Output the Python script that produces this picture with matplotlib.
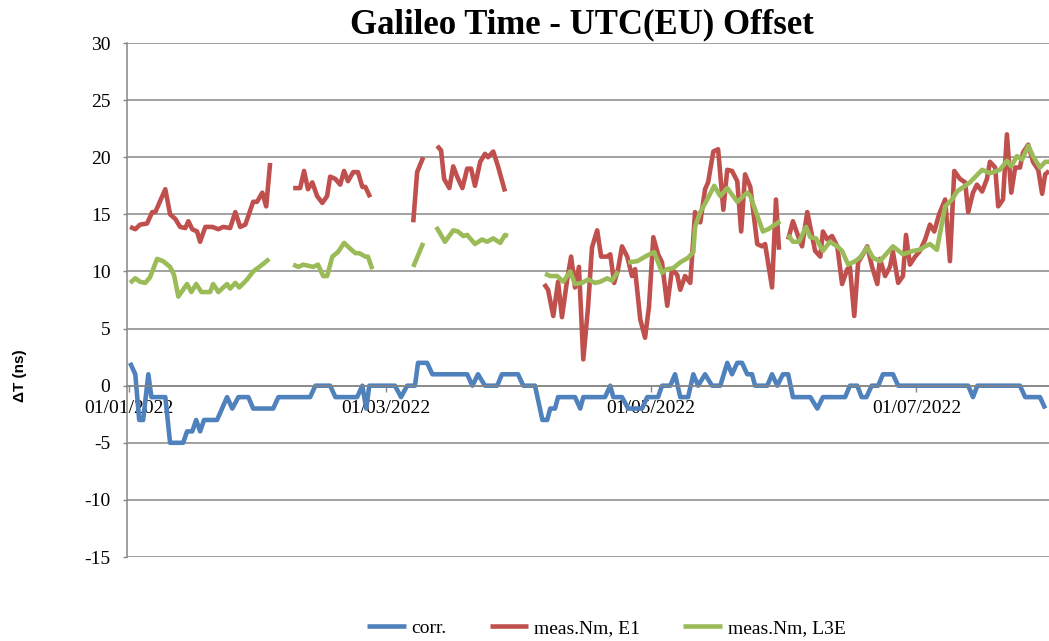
import numpy as np
import matplotlib
matplotlib.use("Agg")
import matplotlib.pyplot as plt

plt.rcParams['axes.unicode_minus'] = False

# days since 01/01/2022, nan = gap in the series
nan = np.nan

corr_day = [0.2, 1.4, 2.3, 3.2, 4.4, 5.1, 8.3, 9.4, 12.4, 13.3, 14.5, 15.4, 16.3, 17.2, 20.2,
            22.5, 23.7, 25.1, 27.4, 28.5, 33.1, 34.3, 41.6, 42.8, 46.2, 47.4, 52.4, 53.6, 54.5,
            55.2, 61.1, 62.5, 63.9, 65.7, 66.4, 68.5, 69.7, 77.7, 78.9, 80.2, 81.8, 84.6, 85.7,
            89.4, 90.6, 93.3, 95.0, 96.1, 96.8, 97.9, 98.6, 102.5, 103.7, 104.4, 109.4, 110.6,
            111.3, 113.3, 114.7, 117.9, 119.1, 121.6, 122.5, 124.4, 125.5, 126.7, 128.5, 129.7,
            130.8, 132.4, 134.0, 135.9, 137.5, 138.6, 139.8, 140.9, 142.1, 143.2, 143.9, 146.7,
            147.8, 149.0, 150.3, 151.5, 152.6, 156.6, 158.2, 159.5, 164.6, 165.7, 167.4, 168.4,
            169.5, 170.7, 172.2, 173.3, 175.6, 176.8, 192.9, 194.0, 195.0, 204.8, 206.0, 209.4,
            210.6]
corr_val = [2, 1, -3, -3, 1, -1, -1, -5, -5, -4, -4, -3, -4, -3, -3,
            -1, -2, -1, -1, -2, -2, -1, -1, 0, 0, -1, -1, 0, -2,
            0, 0, -1, 0, 0, 2, 2, 1, 1, 0, 1, 0, 0, 1,
            1, 0, 0, -3, -3, -2, -2, -1, -1, -2, -1, -1, 0,
            -1, -1, -2, -2, -1, -1, 0, 0, 1, -1, -1, 1,
            0, 1, 0, 0, 2, 1, 2, 2, 1, 1, 0, 0,
            1, 0, 1, 1, -1, -1, -2, -1, -1, 0, 0, -1,
            -1, 0, 0, 1, 1, 0, 0, -1, 0, 0, -1, -1,
            -2]

e1_day = [0.2, 1.4, 2.5, 4.1, 5.3, 6.0, 8.3, 9.4, 10.6, 11.7, 12.9, 13.6, 14.5, 15.6, 16.3,
          17.5, 19.1, 20.5, 21.6, 23.2, 24.4, 25.5, 26.7, 28.5, 29.4, 30.6, 31.5, 32.4, nan,
          37.7, 39.3, 40.2, 41.1, 42.1, 43.2, 44.4, 45.5, 46.2, 47.4, 48.5, 49.4, 50.3, 51.5,
          52.6, 53.6, 54.3, 55.4, nan,
          65.3, 66.2, 67.6, nan,
          70.8, 71.7, 72.4, 73.6, 74.5, 75.4, 76.6, 77.7, 78.6, 79.5, 80.7, 81.8, 82.5, 83.7,
          84.8, 86.4, nan,
          95.4, 96.3, 97.5, 98.6, 99.5, 100.7, 101.6, 102.5, 103.4, 104.4, 105.5, 106.4, 107.6,
          108.5, 109.9, 110.6, 111.5, 112.4, 113.3, 114.5, 115.6, 116.3, 117.5, 118.6, 119.5,
          120.5, 121.6, 122.5, 123.7, 124.8, 126.0, 126.7, 127.8, 129.0, 130.1, 131.3, 132.4,
          133.1, 134.3, 135.4, 136.6, 137.5, 138.6, 139.8, 140.7, 141.6, 142.8, 144.4, 145.5,
          146.2, 147.8, 148.7, 149.4, nan,
          151.5, 152.6, 153.8, 154.7, 155.9, 157.0, 157.7, 158.9, 159.5, 160.5, 161.6, 162.8,
          163.9, 165.1, 165.7, 166.7, 167.6, 168.7, 169.7, 170.8, 172.0, 172.6, 173.8, 174.9,
          175.6, 176.8, 177.9, 178.6, 179.5, 180.7, 181.8, 183.0, 184.1, 185.1, 186.2, 187.6,
          188.7, 189.7, 191.0, 192.2, 192.9, 194.0, 194.9, 196.1, 197.2, 197.9, 199.1, 199.8,
          200.9, 201.8, 202.8, 203.7, 204.8, 205.5, 206.7, 207.8, 209.0, 209.9, 210.6, 211.5]
e1_val = [13.9, 13.7, 14.1, 14.2, 15.2, 15.2, 17.2, 15.0, 14.6, 13.9, 13.8, 14.4, 13.7, 13.5, 12.6,
          13.9, 13.9, 13.7, 13.9, 13.8, 15.2, 13.9, 14.1, 16.1, 16.1, 16.9, 15.7, 19.5, nan,
          17.3, 17.3, 18.8, 17.2, 17.8, 16.6, 16.0, 16.6, 18.3, 18.1, 17.6, 18.8, 17.9, 18.7,
          18.7, 17.4, 17.4, 16.5, nan,
          14.3, 18.7, 20.0, nan,
          21.0, 20.6, 18.1, 17.3, 19.2, 18.3, 17.3, 19.0, 19.0, 17.5, 19.6, 20.3, 20.0, 20.5,
          19.2, 17.0, nan,
          8.9, 8.4, 6.1, 9.1, 6.0, 9.3, 11.3, 8.6, 10.4, 2.3, 6.9, 12.1, 13.6,
          11.3, 11.3, 11.5, 9.0, 10.2, 12.2, 11.3, 9.6, 10.2, 5.8, 4.2, 6.9,
          13.0, 11.5, 10.8, 7.0, 10.2, 9.7, 8.4, 9.6, 9.0, 15.2, 14.3, 17.2,
          17.8, 20.5, 20.7, 15.4, 18.9, 18.8, 17.9, 13.5, 18.5, 17.4, 12.4, 12.2,
          12.4, 8.6, 16.3, 11.9, nan,
          12.8, 14.4, 13.1, 12.2, 15.2, 13.1, 11.8, 11.3, 13.5, 12.8, 13.1, 12.2,
          8.9, 10.2, 10.4, 6.1, 10.8, 11.5, 12.2, 10.4, 8.9, 11.1, 9.6, 10.4,
          11.7, 9.0, 9.6, 13.2, 10.6, 11.3, 11.8, 12.8, 14.1, 13.5, 15.0, 16.3,
          10.9, 18.8, 18.1, 17.8, 15.2, 16.9, 17.6, 17.0, 18.1, 19.6, 19.1, 15.7,
          16.3, 22.0, 16.9, 19.1, 19.1, 20.4, 21.1, 19.6, 18.9, 16.8, 18.5, 18.8]

l3e_day = [0.2, 1.4, 2.5, 3.7, 4.8, 6.4, 7.8, 9.4, 10.3, 11.3, 13.3, 14.3, 15.4, 16.6, 18.6,
           19.3, 20.5, 22.5, 23.2, 24.4, 25.3, 27.1, 28.5, 30.6, 32.2, nan,
           37.7, 38.9, 40.0, 42.3, 43.4, 44.6, 45.5, 46.7, 48.0, 49.4, 50.8, 52.0, 52.9, 54.3,
           54.9, 55.9, nan,
           65.3, 67.6, nan,
           70.6, 72.6, 74.5, 75.6, 76.8, 77.7, 79.5, 81.1, 82.3, 83.7, 85.3, 86.4, 87.1, nan,
           95.6, 96.8, 98.4, 99.8, 101.4, 102.5, 104.1, 105.5, 107.1, 108.3, 109.9, 111.0,
           112.4, nan,
           114.7, 116.8, 119.1, 120.7, 122.5, 123.7, 125.1, 126.7, 128.5, 129.7, 130.1, 131.3,
           132.9, 134.5, 135.9, 137.5, 139.8, 142.1, 142.8, 145.7, 146.9, 149.7, nan,
           151.5, 152.6, 154.0, 155.6, 156.6, 157.9, 159.5, 161.1, 162.8, 163.9, 165.3, 166.9,
           168.0, 169.7, 171.0, 172.6, 175.6, 177.9, 180.2, 181.8, 183.0, 184.1, 185.7, 187.6,
           189.2, 190.3, 193.3, 196.1, 197.9, 200.2, 201.8, 202.8, 204.1, 205.3, 206.7, 207.8,
           209.4, 210.6, 211.5]
l3e_val = [9.0, 9.4, 9.1, 9.0, 9.5, 11.1, 10.9, 10.4, 9.7, 7.8, 8.9, 8.2, 8.9, 8.2, 8.2,
           8.9, 8.2, 8.9, 8.5, 9.0, 8.6, 9.3, 10.0, 10.6, 11.1, nan,
           10.6, 10.4, 10.6, 10.4, 10.6, 9.6, 9.6, 11.3, 11.7, 12.5, 12.0, 11.6, 11.6, 11.3,
           11.3, 10.2, nan,
           10.4, 12.5, nan,
           13.9, 12.6, 13.6, 13.5, 13.1, 13.2, 12.4, 12.8, 12.6, 12.9, 12.5, 13.2, 13.1, nan,
           9.8, 9.6, 9.6, 9.1, 10.0, 8.9, 9.0, 9.3, 9.0, 9.1, 9.4, 9.2,
           10.0, nan,
           10.8, 10.9, 11.4, 11.7, 9.9, 10.2, 10.3, 10.8, 11.2, 11.7, 13.9, 15.2,
           16.3, 17.5, 16.6, 17.3, 16.1, 16.9, 16.6, 13.5, 13.7, 14.4, nan,
           13.2, 12.6, 12.6, 13.9, 13.0, 12.9, 11.8, 12.6, 12.2, 11.8, 10.6, 10.9,
           11.2, 12.1, 11.2, 10.9, 12.2, 11.5, 11.8, 11.9, 12.2, 12.4, 11.9, 15.7,
           16.3, 17.0, 17.8, 18.9, 18.6, 18.9, 19.7, 19.2, 20.1, 19.8, 21.0, 20.1,
           19.1, 19.6, 19.6]

tick_days = [0, 59, 120, 181]
tick_labels = ['01/01/2022', '01/03/2022', '01/05/2022', '01/07/2022']

serif = 'Liberation Serif'
grey = '#868686'

fig = plt.figure(figsize=(10.49, 6.41), dpi=100)
ax = fig.add_axes([0.1211, 0.131, 0.879, 0.8019])

ax.plot(corr_day, corr_val, color='#4F81BD', lw=3.3, label='corr.', solid_capstyle='butt')
ax.plot(e1_day, e1_val, color='#C0504D', lw=3.3, label='meas.Nm, E1', solid_capstyle='butt')
ax.plot(l3e_day, l3e_val, color='#9BBB59', lw=3.3, label='meas.Nm, L3E', solid_capstyle='butt')

ax.set_xlim(-0.5, 211.5)
ax.set_ylim(-15, 30)
ax.set_yticks(np.arange(-15, 31, 5))
ax.set_xticks(tick_days)
ax.set_xticklabels(tick_labels)

for s in ['top', 'right']:
    ax.spines[s].set_visible(False)
ax.spines['left'].set_color(grey)
ax.spines['left'].set_linewidth(1.1)
ax.spines['bottom'].set_position(('data', 0))
ax.spines['bottom'].set_color(grey)
ax.spines['bottom'].set_linewidth(1.1)
ax.yaxis.grid(True, color=grey, lw=1.1)
ax.set_axisbelow(True)

ax.tick_params(axis='y', direction='out', length=3, width=1, color=grey, pad=9,
               labelsize=14, labelfontfamily=serif)
ax.tick_params(axis='x', direction='out', length=4, width=1, color=grey, pad=6,
               labelsize=14, labelfontfamily=serif)

fig.text(0.555, 1 - 33 / 641, 'Galileo Time - UTC(EU) Offset', family=serif,
         fontsize=25, fontweight='bold', ha='center', va='baseline')
fig.text(20 / 1049, 1 - 376 / 641, 'ΔT (ns)', family='Liberation Sans', fontsize=11,
         fontweight='bold', rotation=90, ha='center', va='center')

fig.legend(loc='center', bbox_to_anchor=(0.578, 1 - 628 / 641), ncol=3, frameon=False,
           prop={'family': serif, 'size': 14}, handlelength=2.0, handletextpad=0.3,
           columnspacing=2.2)

fig.savefig('out.png', dpi=100)
